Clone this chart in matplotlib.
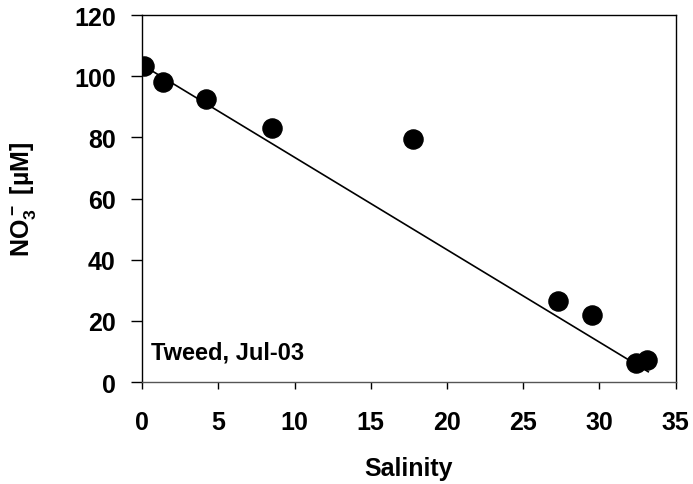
import matplotlib
matplotlib.use('Agg')
import matplotlib.pyplot as plt

plt.rcParams['font.family'] = 'Liberation Sans'
plt.rcParams['font.weight'] = 'bold'
plt.rcParams['mathtext.fontset'] = 'custom'
plt.rcParams['mathtext.rm'] = 'Liberation Sans:bold'
plt.rcParams['mathtext.bf'] = 'Liberation Sans:bold'
plt.rcParams['mathtext.default'] = 'bf'

# measured samples
salinity = [0.1, 1.4, 4.2, 8.5, 17.8, 27.3, 29.5, 32.4, 33.1]
nitrate = [103.3, 98.0, 92.5, 83.0, 79.5, 26.5, 22.0, 6.3, 7.2]

# conservative mixing line
mix_sal = [0.1, 33.2]
mix_no3 = [103.4, 3.4]

xticks = [0, 5, 10, 15, 20, 25, 30, 35]
yticks = [0, 20, 40, 60, 80, 100, 120]

fig = plt.figure(figsize=(6.93, 4.85), dpi=100)
ax = fig.add_axes([0.205, 0.21, 0.77, 0.757])

ax.plot(mix_sal, mix_no3, color='black', lw=1.2, zorder=3)
ax.scatter(salinity, nitrate, s=190, color='black', zorder=2)

ax.set_xlim(0, 35)
ax.set_ylim(0, 120)
ax.set_xticks(xticks)
ax.set_yticks(yticks)
ax.tick_params(axis='both', labelsize=18, direction='out', width=1, colors='black')
ax.tick_params(axis='y', length=8, pad=11)
ax.tick_params(axis='x', length=5, pad=15)
for s in ax.spines.values():
    s.set_linewidth(1)
ax.spines['bottom'].set_color('#555555')

ax.set_xlabel('Salinity', fontsize=18, fontweight='bold', labelpad=16)
ax.set_ylabel(r'NO$_3^-$ [µM]', fontsize=18, fontweight='bold', labelpad=26)

ax.text(0.6, 10, 'Tweed, Jul-03', fontsize=17, fontweight='bold', va='center')

fig.savefig('out.png', dpi=100)
